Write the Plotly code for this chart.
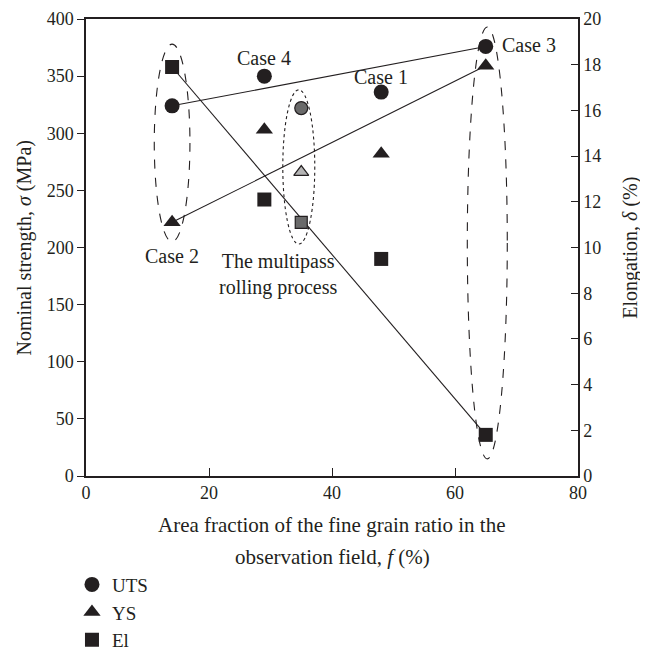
import plotly.graph_objects as go

# ---- data ----
f = [14, 29, 35, 48, 65]              # area fraction of fine grain (%)
uts = [324, 350, 322, 336, 376]       # MPa
ys = [222, 303, 266, 282, 359]        # MPa
el = [17.9, 12.1, 11.1, 9.5, 1.8]     # %
multipass = [False, False, True, False, False]
trend_idx = [0, 4]                    # Case 2 -> Case 3 lines

case_labels = ["Case 2", "Case 4", "Case 1", "Case 3"]
case_x = [14, 29, 48, 72]
case_y = [193, 366, 349, 377]

x_ticks = [0, 20, 40, 60, 80]
y_ticks = [0, 50, 100, 150, 200, 250, 300, 350, 400]
y2_ticks = [0, 2, 4, 6, 8, 10, 12, 14, 16, 18, 20]

BLACK = "#231f20"
FONT = "Liberation Serif"
TS = 20   # text size
KS = 18   # tick size

fig = go.Figure()

def sel(vals, mp):
    return [v for v, m in zip(vals, multipass) if m == mp]

# trend lines
fig.add_trace(go.Scatter(x=[f[i] for i in trend_idx], y=[uts[i] for i in trend_idx],
                         mode="lines", line=dict(color=BLACK, width=1.1),
                         showlegend=False, hoverinfo="skip"))
fig.add_trace(go.Scatter(x=[f[i] for i in trend_idx], y=[ys[i] for i in trend_idx],
                         mode="lines", line=dict(color=BLACK, width=1.1),
                         showlegend=False, hoverinfo="skip"))
fig.add_trace(go.Scatter(x=[f[i] for i in trend_idx], y=[el[i] for i in trend_idx],
                         mode="lines", line=dict(color=BLACK, width=1.1), yaxis="y2",
                         showlegend=False, hoverinfo="skip"))

# main markers
fig.add_trace(go.Scatter(x=sel(f, False), y=sel(uts, False), mode="markers", name="UTS",
                         marker=dict(symbol="circle", size=15, color=BLACK)))
fig.add_trace(go.Scatter(x=sel(f, False), y=sel(ys, False), mode="markers", name="YS",
                         marker=dict(symbol="triangle-up", size=15, color=BLACK)))
fig.add_trace(go.Scatter(x=sel(f, False), y=sel(el, False), mode="markers", name="El",
                         yaxis="y2", marker=dict(symbol="square", size=14, color=BLACK)))

# multipass markers (hatched look approximated)
fig.add_trace(go.Scatter(x=sel(f, True), y=sel(uts, True), mode="markers", showlegend=False,
                         marker=dict(symbol="circle", size=13, color="#6a6a6a",
                                     line=dict(color=BLACK, width=1.2))))
fig.add_trace(go.Scatter(x=sel(f, True), y=sel(ys, True), mode="markers", showlegend=False,
                         marker=dict(symbol="triangle-up", size=13, color="#b5b5b5",
                                     line=dict(color=BLACK, width=1.2))))
fig.add_trace(go.Scatter(x=sel(f, True), y=sel(el, True), mode="markers", showlegend=False,
                         yaxis="y2",
                         marker=dict(symbol="square", size=12, color="#6a6a6a",
                                     line=dict(color=BLACK, width=1.2))))

shapes = [
    dict(type="circle", xref="x", yref="y", x0=11.1, x1=16.9, y0=205, y1=378,
         line=dict(color=BLACK, width=1.1, dash="dash")),
    dict(type="circle", xref="x", yref="y", x0=62.0, x1=68.5, y0=15, y1=393,
         line=dict(color=BLACK, width=1.1, dash="dash")),
    dict(type="circle", xref="x", yref="y", x0=32.0, x1=37.2, y0=203, y1=338,
         line=dict(color=BLACK, width=1.1, dash="dot")),
]

annotations = []
for t, x, y in zip(case_labels, case_x, case_y):
    annotations.append(dict(x=x, y=y, xref="x", yref="y", text=t, showarrow=False,
                            font=dict(family=FONT, size=TS, color=BLACK)))
annotations.append(dict(x=31.3, y=176, xref="x", yref="y",
                        text="The multipass<br>rolling process", showarrow=False,
                        font=dict(family=FONT, size=TS, color=BLACK)))
annotations.append(dict(x=0.5, y=-0.107, xref="paper", yref="paper", yanchor="middle",
                        text="Area fraction of the fine grain ratio in the", showarrow=False,
                        font=dict(family=FONT, size=21, color=BLACK)))
annotations.append(dict(x=0.5, y=-0.177, xref="paper", yref="paper", yanchor="middle",
                        text="observation field, <i>f</i> (%)", showarrow=False,
                        font=dict(family=FONT, size=21, color=BLACK)))
# axis titles
annotations.append(dict(x=-0.124, y=0.5, xref="paper", yref="paper", xanchor="center",
                        yanchor="middle", textangle=-90,
                        text="Nominal strength, <i>σ</i> (MPa)", showarrow=False,
                        font=dict(family=FONT, size=TS, color=BLACK)))
annotations.append(dict(x=1.106, y=0.5, xref="paper", yref="paper", xanchor="center",
                        yanchor="middle", textangle=-90,
                        text="Elongation, <i>δ</i> (%)", showarrow=False,
                        font=dict(family=FONT, size=TS, color=BLACK)))

fig.update_layout(
    width=640, height=644,
    margin=dict(l=78, r=70, t=11, b=176, autoexpand=False),
    paper_bgcolor="white", plot_bgcolor="white",
    font=dict(family=FONT, size=KS, color=BLACK),
    shapes=shapes, annotations=annotations,
    showlegend=True,
    legend=dict(orientation="v", x=-0.0285, y=-0.196, xanchor="left", yanchor="top",
                font=dict(family=FONT, size=19, color=BLACK),
                bgcolor="rgba(0,0,0,0)", tracegroupgap=0),
    xaxis=dict(range=[0, 80], tickvals=x_ticks, ticks="inside", ticklen=8,
               tickcolor=BLACK, showline=True, linecolor=BLACK, linewidth=1.5,
               mirror=True, showgrid=False, zeroline=False, automargin=False,
               ticklabeloverflow="allow",
               tickfont=dict(family=FONT, size=KS)),
    yaxis=dict(range=[0, 400], tickvals=y_ticks, ticks="outside", ticklen=7,
               tickcolor=BLACK, showline=True, linecolor=BLACK, linewidth=1.5,
               showgrid=False, zeroline=False, automargin=False,
               ticklabeloverflow="allow",
               tickfont=dict(family=FONT, size=KS)),
    yaxis2=dict(range=[0, 20], tickvals=y2_ticks, overlaying="y", side="right",
                ticks="inside", ticklen=7, tickcolor=BLACK, showline=True,
                linecolor=BLACK, linewidth=1.5, showgrid=False, zeroline=False,
                automargin=False, ticklabeloverflow="allow",
                tickfont=dict(family=FONT, size=KS)),
)

fig.write_html("out.html")
